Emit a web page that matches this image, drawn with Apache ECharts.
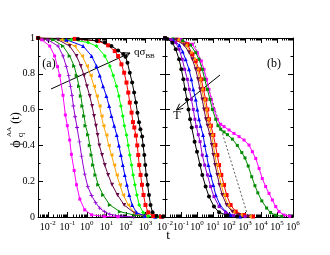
<!DOCTYPE html>
<html><head><meta charset="utf-8">
<script src="https://cdn.jsdelivr.net/npm/echarts@6/dist/echarts.min.js"></script>
<style>html,body{margin:0;padding:0;background:#fff}#c{width:330px;height:255px}</style>
</head><body><div id="c"></div>
<script>
// ---------- data: [t, phi] ----------
// panel (a)
const aMagenta = [[0.0032,1.0],[0.0050,0.99],[0.0126,0.955],[0.0224,0.90],[0.0316,0.84],[0.0407,0.79],[0.0603,0.68],[0.0794,0.57],[0.1,0.51],[0.132,0.43],[0.162,0.35],[0.224,0.26],[0.295,0.18],[0.437,0.10],[0.776,0.04],[1.74,0.012],[7.94,0.003],[39.8,0.001]];
const aViolet = [[0.0032,1.0],[0.01,0.99],[0.0339,0.955],[0.0603,0.90],[0.0891,0.84],[0.117,0.79],[0.145,0.73],[0.174,0.68],[0.204,0.62],[0.251,0.56],[0.316,0.50],[0.417,0.42],[0.537,0.34],[0.776,0.24],[1.12,0.17],[1.74,0.12],[2.82,0.08],[4.57,0.05],[7.94,0.03],[15.1,0.015],[63.1,0.004],[251,0.001]];
const aDkGreen = [[0.0032,1.0],[0.0186,0.99],[0.0603,0.955],[0.132,0.90],[0.224,0.844],[0.302,0.79],[0.398,0.73],[0.490,0.676],[0.589,0.62],[0.724,0.564],[0.851,0.51],[1.15,0.46],[1.41,0.40],[1.74,0.346],[2.09,0.29],[2.75,0.235],[3.80,0.18],[6.76,0.123],[15.1,0.067],[49.0,0.03],[288,0.01],[1000,0.003]];
const aMaroon = [[0.0032,1.0],[0.0339,0.99],[0.132,0.955],[0.295,0.90],[0.490,0.844],[0.724,0.79],[1.02,0.73],[1.41,0.676],[1.86,0.62],[2.34,0.564],[2.95,0.51],[3.55,0.458],[4.37,0.40],[6.03,0.346],[8.32,0.29],[12.3,0.235],[19.5,0.18],[37.2,0.123],[81.3,0.067],[288,0.02],[1000,0.005]];
const aOrange = [[0.0032,1.0],[0.0501,0.99],[0.240,0.955],[0.575,0.90],[1.02,0.844],[1.58,0.79],[2.34,0.73],[3.24,0.676],[4.47,0.62],[5.62,0.564],[7.08,0.51],[10,0.458],[13.2,0.40],[18.2,0.346],[25.1,0.29],[33.9,0.235],[49.0,0.18],[72.4,0.123],[132,0.067],[288,0.02],[1000,0.004]];
const aBlue = [[0.0032,1.0],[0.0891,0.99],[0.646,0.955],[1.74,0.90],[3.09,0.844],[4.57,0.79],[6.76,0.73],[10.0,0.676],[13.8,0.62],[18.2,0.564],[25.1,0.51],[33.9,0.458],[43.7,0.40],[55.0,0.346],[69.2,0.29],[87.1,0.235],[112,0.18],[148,0.123],[209,0.067],[347,0.025],[933,0.005],[3162,0.001]];
const aGreen = [[0.0032,1.0],[0.162,0.99],[1.15,0.975],[3.09,0.955],[8.32,0.90],[15.1,0.844],[22.4,0.79],[33.1,0.73],[43.7,0.676],[55.0,0.62],[69.2,0.564],[83.2,0.51],[107,0.458],[132,0.40],[158,0.346],[195,0.29],[234,0.235],[288,0.18],[363,0.123],[479,0.067],[759,0.025],[1380,0.005],[3981,0.001]];
const aRed = [[0.0032,1.0],[0.240,0.995],[3.80,0.983],[12.3,0.959],[26.9,0.927],[39.8,0.899],[58.9,0.853],[81.3,0.806],[107,0.751],[132,0.695],[158,0.639],[195,0.583],[229,0.53],[269,0.50],[324,0.455],[380,0.40],[427,0.346],[479,0.29],[562,0.235],[661,0.18],[794,0.123],[1000,0.067],[1380,0.026],[2512,0.005],[6310,0.001]];
const aBlack = [[0.0032,1.0],[0.355,0.995],[3.16,0.985],[8.32,0.975],[18.2,0.955],[39.8,0.93],[72.4,0.91],[95.5,0.895],[120,0.862],[158,0.806],[209,0.751],[263,0.695],[324,0.639],[389,0.583],[468,0.53],[550,0.49],[676,0.45],[759,0.40],[871,0.346],[977,0.29],[1096,0.235],[1288,0.18],[1514,0.123],[1820,0.067],[2291,0.026],[3715,0.005],[7943,0.001]];
// panel (b)
const bBlack = [[0.01,1.0],[0.0141,0.995],[0.0288,0.974],[0.0468,0.937],[0.0759,0.881],[0.105,0.825],[0.141,0.769],[0.178,0.713],[0.234,0.657],[0.295,0.601],[0.372,0.546],[0.468,0.50],[0.708,0.421],[1.0,0.365],[1.55,0.29],[2.14,0.235],[3.47,0.17],[5.62,0.114],[11.5,0.058],[24.0,0.026],[79.4,0.008],[316,0.003]];
const bViolet = [[0.01,1.0],[0.0251,0.99],[0.0468,0.974],[0.0759,0.937],[0.120,0.881],[0.170,0.825],[0.251,0.769],[0.331,0.713],[0.447,0.657],[0.589,0.601],[0.741,0.546],[0.912,0.505],[1.20,0.46],[1.55,0.421],[2.14,0.346],[3.02,0.29],[4.47,0.235],[7.08,0.17],[11.5,0.114],[24.0,0.058],[61.7,0.026],[200,0.008],[1000,0.002]];
const bBlue = [[0.01,1.0],[0.0316,0.99],[0.0794,0.96],[0.126,0.925],[0.195,0.881],[0.316,0.825],[0.447,0.769],[0.589,0.713],[0.832,0.657],[1.05,0.601],[1.33,0.546],[1.66,0.51],[2.40,0.458],[3.02,0.402],[3.98,0.346],[5.13,0.29],[7.08,0.235],[10.5,0.179],[14.8,0.123],[27.5,0.067],[61.7,0.03],[126,0.011],[501,0.003]];
const bMaroon = [[0.01,1.0],[0.0501,0.99],[0.158,0.96],[0.316,0.92],[0.513,0.881],[0.832,0.825],[1.15,0.769],[1.55,0.713],[2.14,0.657],[2.75,0.601],[3.63,0.546],[4.57,0.51],[6.46,0.458],[8.32,0.402],[10.5,0.346],[13.5,0.29],[18.6,0.235],[25.1,0.179],[38.0,0.123],[70.8,0.067],[162,0.03],[427,0.011],[1585,0.003]];
const bOrange = [[0.01,1.0],[0.0631,0.99],[0.200,0.96],[0.398,0.92],[0.661,0.881],[1.07,0.825],[1.48,0.769],[2.0,0.713],[2.69,0.657],[3.55,0.601],[4.68,0.546],[5.89,0.51],[8.32,0.458],[10.5,0.402],[13.2,0.346],[17.0,0.29],[23.4,0.235],[33.1,0.179],[49.0,0.123],[87.1,0.067],[186,0.03],[537,0.011],[1995,0.003]];
const bRed = [[0.01,1.0],[0.0631,0.99],[0.251,0.965],[0.513,0.909],[0.832,0.872],[1.33,0.825],[1.86,0.769],[2.51,0.713],[3.47,0.657],[4.47,0.601],[5.62,0.546],[7.41,0.51],[10.5,0.458],[14.1,0.402],[18.6,0.346],[24.0,0.29],[33.1,0.235],[49.0,0.179],[70.8,0.123],[126,0.067],[263,0.03],[871,0.011],[3162,0.003]];
const bFit = [[0.562,1.0],[1585,0.0]];
const bGreen = [[0.01,1.0],[0.0316,0.995],[0.126,0.985],[0.398,0.96],[0.832,0.918],[1.33,0.881],[2.14,0.825],[3.02,0.769],[4.47,0.713],[6.46,0.657],[9.12,0.601],[14.8,0.546],[20.4,0.51],[30.2,0.49],[49.0,0.475],[79.4,0.46],[162,0.435],[331,0.40],[631,0.36],[1000,0.33],[1585,0.285],[2630,0.225],[4169,0.175],[6310,0.135],[11220,0.09],[22387,0.05],[39811,0.025],[79433,0.01],[199526,0.004]];
const bMagenta = [[0.01,1.0],[0.1,0.99],[0.513,0.965],[1.05,0.918],[1.86,0.872],[2.75,0.825],[3.98,0.769],[5.62,0.713],[7.94,0.657],[11.5,0.601],[18.6,0.546],[30.2,0.518],[49.0,0.505],[100,0.486],[204,0.467],[427,0.449],[871,0.43],[1778,0.402],[2884,0.365],[4677,0.327],[7586,0.271],[12023,0.215],[19498,0.17],[31623,0.132],[51286,0.095],[83176,0.058],[134896,0.03],[275423,0.011],[630957,0.004]];

// tick exponents
const aExpLabels = [-2,-1,0,1,2,3];
const aExpTicks = [-2,-1,0,1,2,3,4];
const bExpLabels = [-2,-1,0,1,2,3,4,5,6];
const bExpTicks = [-2,-1,0,1,2,3,4,5,6];

// ---------- styling ----------
const SERIF = 'Liberation Serif';
const C = {black:'#000000', red:'#ff0000', green:'#00ff00', blue:'#0000ff', orange:'#ffa500', maroon:'#670748', dkgreen:'#008b00', violet:'#9400d3', magenta:'#ff00ff'};
const SYM = {
  circle:'circle', square:'rect', diamond:'diamond', up:'triangle',
  down:'path://M0,0L10,0L5,10Z', left:'path://M0,5L10,0L10,10Z', right:'path://M0,0L10,5L0,10Z',
  plus:'path://M4,0H6V4H10V6H6V10H4V6H0V4H4Z'
};
function minorVals(lo, hi){
  const out=[];
  for(let n=Math.floor(lo)-1;n<=Math.ceil(hi);n++){
    for(let k=2;k<=9;k++){const v=n+Math.log10(k); if(v>lo && v<hi) out.push(v);}
  }
  return out;
}
const axBlack = {color:'#000', width:1};
function decoX(grid, lo, hi, pos, vals, len, labels){
  return {gridIndex:grid, type:'value', min:lo, max:hi, position:pos,
    axisLine:{show:false,onZero:false},
    axisTick:{show:true, inside:true, length:len, customValues:vals, lineStyle:axBlack},
    axisLabel: labels ? {show:true, customValues:labels, margin:3, color:'#000',
      formatter:v=>'{b|10}{s|'+Math.round(v)+'}',
      rich:{b:{fontFamily:SERIF,fontSize:10,color:'#000',lineHeight:12,verticalAlign:'bottom'},
            s:{fontFamily:SERIF,fontSize:7,color:'#000',lineHeight:12,verticalAlign:'top'}}} : {show:false},
    splitLine:{show:false}, minorTick:{show:false}};
}
function logX(grid, mn, mx){
  return {gridIndex:grid, type:'log', logBase:10, min:mn, max:mx, position:'bottom',
    axisLine:{show:true,onZero:false,lineStyle:axBlack}, axisTick:{show:false}, axisLabel:{show:false},
    splitLine:{show:false}, minorTick:{show:false}, minorSplitLine:{show:false}};
}
function yAx(grid, pos, labels){
  return {gridIndex:grid, type:'value', min:0, max:1, interval:0.2, position:pos,
    axisLine:{show:true,onZero:false,lineStyle:axBlack},
    axisTick:{show:true, inside:true, length:5, lineStyle:axBlack},
    minorTick:{show:true, splitNumber:2, length:2.5, lineStyle:axBlack},
    axisLabel: labels ? {show:true, margin:3, color:'#000', fontFamily:SERIF, fontSize:10,
       formatter:v=> (v===0?'0':(v===1?'1':v.toFixed(1)))} : {show:false},
    splitLine:{show:false}, minorSplitLine:{show:false}};
}
const aLo=-2.5, aHi=4, bLo=-2, bHi=6;
const xAxes = [
  logX(0, Math.pow(10,aLo), Math.pow(10,aHi)),
  decoX(0,aLo,aHi,'bottom',aExpTicks,5,aExpLabels),
  decoX(0,aLo,aHi,'bottom',minorVals(aLo,aHi),2.5,null),
  Object.assign(decoX(0,aLo,aHi,'top',aExpTicks,5,null),{axisLine:{show:true,onZero:false,lineStyle:axBlack}}),
  decoX(0,aLo,aHi,'top',minorVals(aLo,aHi),2.5,null),
  logX(1, Math.pow(10,bLo), Math.pow(10,bHi)),
  decoX(1,bLo,bHi,'bottom',bExpTicks,5,bExpLabels),
  decoX(1,bLo,bHi,'bottom',minorVals(bLo,bHi),2.5,null),
  Object.assign(decoX(1,bLo,bHi,'top',bExpTicks,5,null),{axisLine:{show:true,onZero:false,lineStyle:axBlack}}),
  decoX(1,bLo,bHi,'top',minorVals(bLo,bHi),2.5,null)
];
const yAxes = [yAx(0,'left',true), yAx(0,'right',false), yAx(1,'left',false), yAx(1,'right',false)];

function ser(panel, data, color, sym, size){
  return {type:'line', xAxisIndex: panel===0?0:5, yAxisIndex: panel===0?0:2, data:data,
    symbol:sym, symbolSize:size||4, showSymbol:true, showAllSymbol:true,
    lineStyle:{color:color,width:1}, itemStyle:{color:color, borderWidth:0}, emphasis:{disabled:true}, z:3};
}
const series = [
  ser(0,aMagenta,C.magenta,SYM.square,3),
  ser(0,aViolet,C.violet,SYM.plus,4),
  ser(0,aDkGreen,C.dkgreen,SYM.right,4),
  ser(0,aMaroon,C.maroon,SYM.down,4),
  ser(0,aOrange,C.orange,SYM.left,4),
  ser(0,aBlue,C.blue,SYM.up,4),
  ser(0,aGreen,C.green,SYM.diamond,4),
  ser(0,aRed,C.red,SYM.square,4),
  ser(0,aBlack,C.black,SYM.circle,4),
  ser(1,bMagenta,C.magenta,SYM.square,3),
  ser(1,bGreen,C.dkgreen,SYM.square,3),
  {type:'line', xAxisIndex:5, yAxisIndex:2, data:bFit, symbol:'none', lineStyle:{color:'#333',width:0.8,type:[2,2]}, z:2},
  ser(1,bRed,C.red,SYM.square,4),
  ser(1,bOrange,C.orange,SYM.left,4),
  ser(1,bMaroon,C.maroon,SYM.down,4),
  ser(1,bBlue,C.blue,SYM.up,4),
  ser(1,bViolet,C.violet,SYM.square,3),
  ser(1,bBlack,C.black,SYM.circle,4)
];

function arrowHead(x,y,pts){return {type:'polyline', shape:{points:pts}, style:{stroke:'#000',fill:null,lineWidth:1}};}
const graphics = [
  {type:'text', x:49, y:64, style:{text:'(a)', font:'12px '+SERIF, fill:'#000', textAlign:'center', textVerticalAlign:'middle'}},
  {type:'text', x:274, y:64, style:{text:'(b)', font:'12px '+SERIF, fill:'#000', textAlign:'center', textVerticalAlign:'middle'}},
  {type:'line', shape:{x1:51,y1:89,x2:130,y2:53}, style:{stroke:'#000',lineWidth:1}},
  {type:'polyline', shape:{points:[[123,52.9],[130,53],[125.5,58.3]]}, style:{stroke:'#000',fill:null,lineWidth:1}},
  {type:'text', x:134, y:53, style:{text:'{n|qσ}{s|BB}', textAlign:'left', textVerticalAlign:'middle',
     rich:{n:{fontFamily:SERIF,fontSize:11,fill:'#000',lineHeight:13,verticalAlign:'top'}, s:{fontFamily:SERIF,fontSize:7,fill:'#000',lineHeight:13,verticalAlign:'bottom'}}}},
  {type:'line', shape:{x1:220,y1:75,x2:176.5,y2:110}, style:{stroke:'#000',lineWidth:1}},
  {type:'polyline', shape:{points:[[183.3,108.3],[176.5,110],[179.6,103.7]]}, style:{stroke:'#000',fill:null,lineWidth:1}},
  {type:'text', x:177, y:116, style:{text:'T', font:'12px '+SERIF, fill:'#000', textAlign:'center', textVerticalAlign:'middle'}},
  {type:'text', x:168, y:236, style:{text:'t', font:'13px '+SERIF, fill:'#000', textAlign:'center', textVerticalAlign:'middle'}},
  {type:'group', x:16, y:129, rotation:Math.PI/2, children:[
    {type:'text', x:-15, y:0, style:{text:'ϕ', font:'14px '+SERIF, fill:'#000', textAlign:'center', textVerticalAlign:'middle'}},
    {type:'text', x:-3, y:-7, style:{text:'AA', font:'7px '+SERIF, fill:'#000', textAlign:'center', textVerticalAlign:'middle'}},
    {type:'text', x:-6, y:5, style:{text:'q', font:'9px '+SERIF, fill:'#000', textAlign:'center', textVerticalAlign:'middle'}},
    {type:'text', x:11, y:0, style:{text:'(t)', font:'12px '+SERIF, fill:'#000', textAlign:'center', textVerticalAlign:'middle'}}
  ]}
];

const chart = echarts.init(document.getElementById('c'), null, {renderer:'canvas'});
chart.setOption({
  animation:false,
  backgroundColor:'#fff',
  grid:[{left:38, top:38, width:127, height:179, containLabel:false},
        {left:165, top:38, width:128, height:179, containLabel:false}],
  xAxis:xAxes, yAxis:yAxes, series:series, graphic:graphics
});
</script></body></html>
